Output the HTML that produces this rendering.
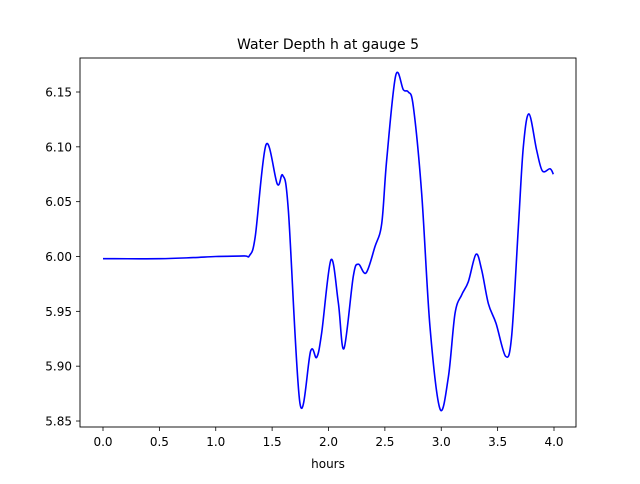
<!DOCTYPE html>
<html><head><meta charset="utf-8"><style>
body{margin:0;background:#fff;font-family:"DejaVu Sans","Liberation Sans",sans-serif;}
svg text{font-family:"DejaVu Sans","Liberation Sans",sans-serif;fill:#000;}
</style></head><body>
<svg id="chart" width="640" height="480" viewBox="0 0 640 480" xmlns="http://www.w3.org/2000/svg">
<rect width="640" height="480" fill="#fff"/>
<text x="328" y="49" font-size="14" text-anchor="middle">Water Depth h at gauge 5</text>
<g id="axes"></g>
<path id="line" fill="none" stroke="#0000ff" stroke-width="1.6"/>
<rect x="80" y="58" width="496" height="369" fill="none" stroke="#000" stroke-width="0.9"/>
<text x="328" y="468" font-size="12" text-anchor="middle">hours</text>
</svg>
<script>
const hours = [0,0.5,0.8,1.0,1.25,1.30,1.35,1.446,1.546,1.594,1.644,1.747,1.842,1.895,1.939,2.022,2.087,2.137,2.22,2.265,2.333,2.412,2.472,2.516,2.596,2.664,2.708,2.752,2.826,2.900,2.989,3.063,3.122,3.181,3.240,3.308,3.358,3.418,3.486,3.571,3.624,3.684,3.728,3.778,3.846,3.897,3.965,3.994];
const depth = [5.998,5.998,5.999,6.000,6.0005,6.001,6.018,6.102,6.066,6.074,6.042,5.866,5.914,5.908,5.930,5.997,5.958,5.916,5.982,5.993,5.985,6.009,6.030,6.088,6.165,6.152,6.150,6.137,6.058,5.936,5.861,5.890,5.948,5.965,5.977,6.002,5.988,5.957,5.939,5.909,5.927,6.027,6.100,6.130,6.097,6.078,6.080,6.075];
const xTicks = [0,0.5,1.0,1.5,2.0,2.5,3.0,3.5,4.0];
const yTicks = [5.85,5.90,5.95,6.00,6.05,6.10,6.15];

const X = v => 103 + (v - 0) * 112.75;
const Y = v => 92 + (6.15 - v) * 1096.7;
const NS = "http://www.w3.org/2000/svg";
const axes = document.getElementById('axes');
xTicks.forEach(t => {
  const l = document.createElementNS(NS,'line');
  l.setAttribute('x1',X(t));l.setAttribute('x2',X(t));l.setAttribute('y1',427);l.setAttribute('y2',431);
  l.setAttribute('stroke','#000');l.setAttribute('stroke-width','0.8');
  
  
  axes.appendChild(l);
  const tx = document.createElementNS(NS,'text');
  tx.setAttribute('x',X(t));tx.setAttribute('y',446);tx.setAttribute('font-size','12');tx.setAttribute('text-anchor','middle');
  tx.textContent = t.toFixed(1);
  
  
  axes.appendChild(tx);
});
yTicks.forEach(t => {
  const l = document.createElementNS(NS,'line');
  l.setAttribute('x1',76);l.setAttribute('x2',80);l.setAttribute('y1',Y(t));l.setAttribute('y2',Y(t));
  l.setAttribute('stroke','#000');l.setAttribute('stroke-width','0.8');
  
  
  axes.appendChild(l);
  const tx = document.createElementNS(NS,'text');
  tx.setAttribute('x',72);tx.setAttribute('y',Y(t)+4.5);tx.setAttribute('font-size','12');tx.setAttribute('text-anchor','end');
  tx.textContent = t.toFixed(2);
  
  
  axes.appendChild(tx);
});
const pts = hours.map((h,i)=>[X(h),Y(depth[i])]);
let d = 'M'+pts[0][0]+','+pts[0][1];
for (let i=0;i<pts.length-1;i++){
  const p0=pts[Math.max(0,i-1)],p1=pts[i],p2=pts[i+1],p3=pts[Math.min(pts.length-1,i+2)];
  const c1=[p1[0]+(p2[0]-p0[0])/6,p1[1]+(p2[1]-p0[1])/6];
  const c2=[p2[0]-(p3[0]-p1[0])/6,p2[1]-(p3[1]-p1[1])/6];
  d+=' C'+c1[0]+','+c1[1]+' '+c2[0]+','+c2[1]+' '+p2[0]+','+p2[1];
}
document.getElementById('line').setAttribute('d',d);
</script>
</body></html>
